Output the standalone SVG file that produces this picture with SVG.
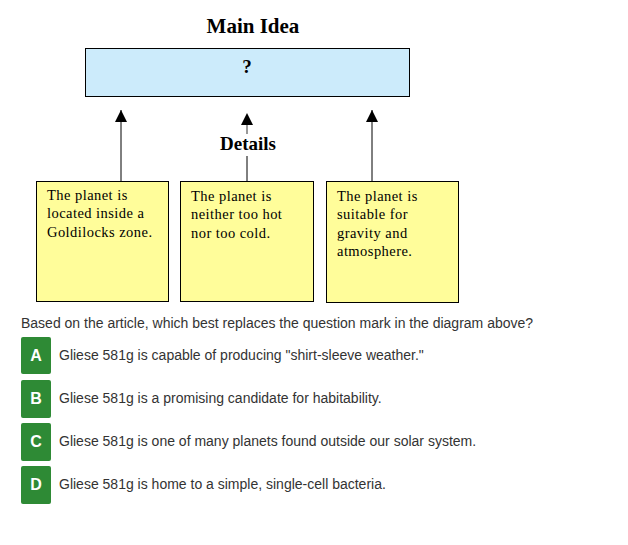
<svg xmlns="http://www.w3.org/2000/svg" width="628" height="545" viewBox="0 0 628 545">
<style>
.title{font-family:"Liberation Serif","Times New Roman",serif;font-weight:bold;font-size:21px;fill:#000}
.lbl{font-family:"Liberation Serif","Times New Roman",serif;font-weight:bold;font-size:19px;fill:#000}
.det{font-family:"Liberation Serif","Times New Roman",serif;font-size:14.5px;letter-spacing:0.45px;fill:#000}
.box{fill:#FFFD9A;stroke:#000;stroke-width:1}
.q{font-family:"Liberation Sans",Arial,sans-serif;font-size:14px;fill:#333}
.badge{fill:#2E8A35}
.letter{font-family:"Liberation Sans",Arial,sans-serif;font-size:16px;font-weight:bold;fill:#fff;text-anchor:middle}
.conn{stroke:#000;stroke-width:1;fill:none}
</style>
<rect width="628" height="545" fill="#fff"/>
<g id="main-idea">
<text class="title" x="253" y="33" text-anchor="middle">Main Idea</text>
<rect x="85.5" y="48.5" width="324" height="48" fill="#CCEBFB" stroke="#000"/>
<text class="lbl" x="247" y="73" text-anchor="middle">?</text>
</g>
<g id="connectors">
<line class="conn" x1="121" y1="181" x2="121" y2="110"/>
<path d="M115,122 L121,110 L127,122 Z" fill="#000"/>
<line class="conn" x1="247" y1="181" x2="247" y2="156"/>
<line x1="247" y1="134" x2="247" y2="120" stroke="#777" stroke-width="1.5"/>
<path d="M241,125 L247,113 L253,125 Z" fill="#000"/>
<line class="conn" x1="372" y1="181" x2="372" y2="110"/>
<path d="M366,122 L372,110 L378,122 Z" fill="#000"/>
<text class="lbl" x="248" y="150" text-anchor="middle">Details</text>
</g>
<g id="detail-1">
<rect class="box" x="36.5" y="181.5" width="132" height="120"/>
<text class="det" x="47" y="200">The planet is</text>
<text class="det" x="47" y="218">located inside a</text>
<text class="det" x="47" y="237">Goldilocks zone.</text>
</g>
<g id="detail-2">
<rect class="box" x="180.5" y="181.5" width="133" height="120"/>
<text class="det" x="191" y="201">The planet is</text>
<text class="det" x="191" y="219">neither too hot</text>
<text class="det" x="191" y="238">nor too cold.</text>
</g>
<g id="detail-3">
<rect class="box" x="326.5" y="181.5" width="132" height="121"/>
<text class="det" x="337" y="201">The planet is</text>
<text class="det" x="337" y="219">suitable for</text>
<text class="det" x="337" y="238">gravity and</text>
<text class="det" x="337" y="256">atmosphere.</text>
</g>
<g id="question">
<text class="q" x="21" y="328">Based on the article, which best replaces the question mark in the diagram above?</text>
</g>
<g id="option-a">
<rect class="badge" x="21" y="337" width="30" height="37" rx="2"/>
<text class="letter" x="36" y="361">A</text>
<text class="q" x="59" y="360">Gliese 581g is capable of producing "shirt-sleeve weather."</text>
</g>
<g id="option-b">
<rect class="badge" x="21" y="380" width="30" height="38" rx="2"/>
<text class="letter" x="36" y="404">B</text>
<text class="q" x="59" y="403">Gliese 581g is a promising candidate for habitability.</text>
</g>
<g id="option-c">
<rect class="badge" x="21" y="423" width="30" height="38" rx="2"/>
<text class="letter" x="36" y="447">C</text>
<text class="q" x="59" y="446">Gliese 581g is one of many planets found outside our solar system.</text>
</g>
<g id="option-d">
<rect class="badge" x="21" y="466" width="30" height="38" rx="2"/>
<text class="letter" x="36" y="490">D</text>
<text class="q" x="59" y="489">Gliese 581g is home to a simple, single-cell bacteria.</text>
</g>
</svg>
